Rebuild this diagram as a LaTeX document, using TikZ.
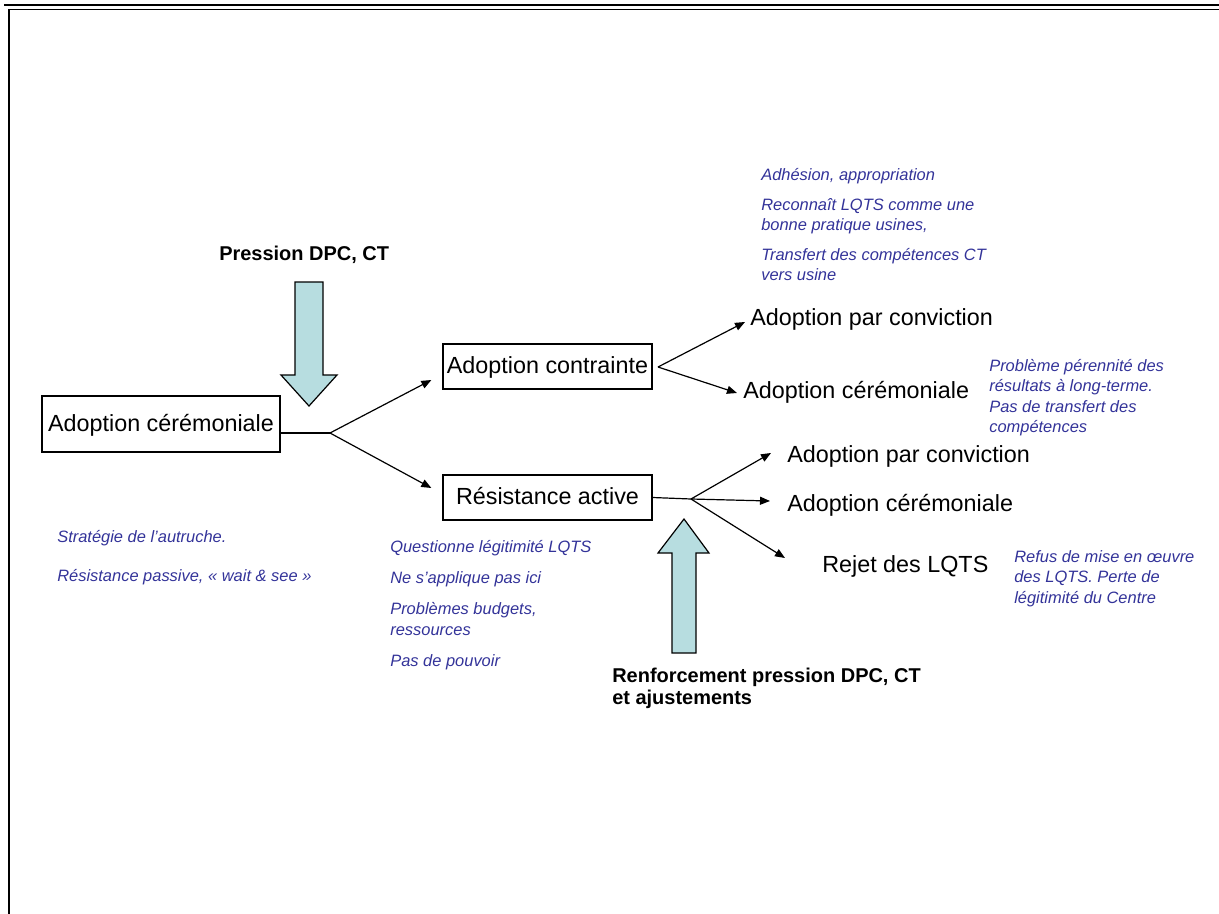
\documentclass[tikz,border=0pt]{standalone}
\usepackage{fontspec}
\setmainfont{Liberation Sans}
\usetikzlibrary{arrows.meta,calc}
\usepackage{xcolor}
\definecolor{hblue}{HTML}{333399}
\definecolor{hcyan}{HTML}{B7DDE0}

\begin{document}
\begin{tikzpicture}[x=0.025cm,y=-0.025cm,
    etat/.style={draw,line width=0.03cm,inner sep=0pt,text height=1.22em,text depth=0.2em,font=\fontsize{16.6}{19}\selectfont},
    issue/.style={anchor=west,inner sep=0pt,font=\fontsize{16.6}{19}\selectfont},
    remarque/.style={anchor=north west,inner sep=0pt,align=left,text=hblue,font=\fontsize{11.7}{14.6}\selectfont\itshape},
    pression/.style={inner sep=0pt,align=left,font=\fontsize{14.2}{15.6}\selectfont\bfseries},
    fleche/.style={line width=0.03cm,-{Triangle[length=0.25cm,width=0.2cm]}},
    bloc/.style={draw,line width=0.03cm,fill=hcyan}]
                  \useasboundingbox (0,0) rectangle (1219,914);
                  \draw[line width=0.05cm] (4,5) -- (1219,5);
                  \draw[line width=0.0375cm] (9,914) -- (9,9.5) -- (1219,9.5);
                  \draw[bloc] (295,282) -- (323,282) -- (323,375) -- (337,375) -- (309,406) -- (281,375) -- (295,375) -- cycle;
                  \draw[bloc] (672,653) -- (696,653) -- (696,553) -- (709,553) -- (684,519) -- (658,553) -- (672,553) -- cycle;
                  \node[etat, minimum width=5.95cm, minimum height=1.4cm] (ceremonie) at (161,424) {Adoption cérémoniale};
                  \node[etat, minimum width=5.225cm, minimum height=1.125cm] (contrainte) at (547.5,366.5) {Adoption contrainte};
                  \node[etat, minimum width=5.225cm, minimum height=1.125cm] (resistance) at (547.5,497.5) {Résistance active};
                  \node[issue] (conv1) at (750,319) {Adoption par conviction};
                  \node[issue] (cer1) at (743,392) {Adoption cérémoniale};
                  \node[issue] (conv2) at (787,456) {Adoption par conviction};
                  \node[issue] (cer2) at (787,505) {Adoption cérémoniale};
                  \node[issue] (rejet) at (822,566) {Rejet des LQTS};
                  \coordinate (j1) at (330,433);
                  \coordinate (c1) at (658,367);
                  \coordinate (j2) at (691,499);
                  \draw[line width=0.03cm] (ceremonie.east |- j1) -- (j1);
                  \draw[fleche] (j1) -- ([shift={(-11,13.5)}]contrainte.west);
                  \draw[fleche] (j1) -- ([shift={(-11,-9.5)}]resistance.west);
                  \draw[fleche] (c1) -- ([shift={(-5,3)}]conv1.west);
                  \draw[fleche] (c1) -- ([shift={(-6,1)}]cer1.west);
                  \draw[line width=0.03cm] (resistance.east) -- (j2);
                  \draw[fleche] (j2) -- ([shift={(-16,-3)}]conv2.west);
                  \draw[fleche] (j2) -- ([shift={(-17,-4)}]cer2.west);
                  \draw[fleche] (j2) -- ([shift={(-37,-8)}]rejet.west);
                  \node[pression, anchor=west] (pdpc) at (219,255) {Pression DPC, CT};
                  \node[pression, anchor=north west] (renfort) at (612,668) {Renforcement pression DPC, CT\\et ajustements};
                  \node[remarque] (autruche) at (57,530) {Stratégie de l’autruche.\\[13.2pt]Résistance passive, « wait \& see »};
                  \node[remarque] (questionne) at (390,540) {Questionne légitimité LQTS\\[7.5pt]Ne s’applique pas ici\\[7.5pt]Problèmes budgets,\\ressources\\[7.5pt]Pas de pouvoir};
                  \node[remarque] (adhesion) at (761,168) {Adhésion, appropriation\\[6.5pt]Reconnaît LQTS comme une\\bonne pratique usines,\\[6.5pt]Transfert des compétences CT\\vers usine};
                  \node[remarque] (perennite) at (989,359) {Problème pérennité des\\résultats à long-terme.\\Pas de transfert des\\compétences};
                  \node[remarque] (refus) at (1014,550) {Refus de mise en œuvre\\des LQTS. Perte de\\légitimité du Centre};
                \end{tikzpicture}
\end{document}
